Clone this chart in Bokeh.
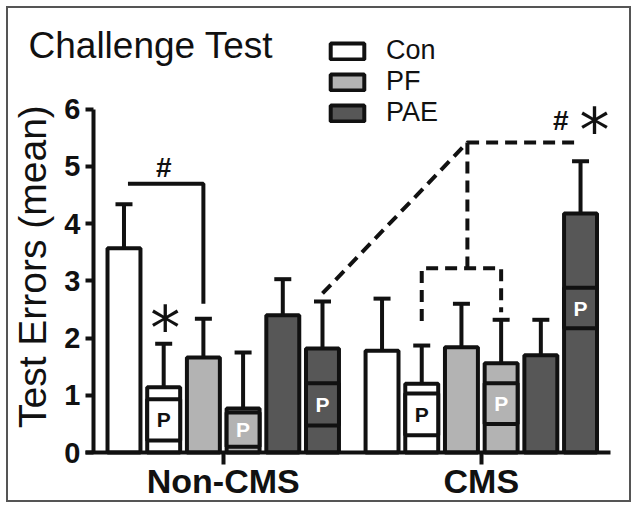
import math
from bokeh.plotting import figure
from bokeh.models import (ColumnDataSource, Whisker, TeeHead, Legend, LegendItem,
                          FixedTicker, Range1d, Label)
from bokeh.core.properties import value
from bokeh.embed import file_html
from bokeh.resources import INLINE

# ---------------- data ----------------
groups = ["Non-CMS", "CMS"]
conditions = ["Con", "PF", "PAE"]
treatments = ["", "P"]          # second bar of each pair is labelled "P"

means_noncms = [3.57, 1.14, 1.66, 0.77, 2.40, 1.82]
means_cms    = [1.78, 1.20, 1.84, 1.56, 1.70, 4.18]
sem_noncms   = [0.77, 0.76, 0.68, 0.98, 0.63, 0.82]
sem_cms      = [0.91, 0.67, 0.76, 0.76, 0.62, 0.91]

# "P" inset boxes (low, high) for the P bars, per condition
p_low_noncms  = [0.21, 0.10, 0.47]
p_high_noncms = [0.93, 0.70, 1.21]
p_low_cms     = [0.30, 0.50, 2.17]
p_high_cms    = [1.03, 1.21, 2.88]

y_ticks = [0, 1, 2, 3, 4, 5, 6]

colors = {"Con": "#ffffff", "PF": "#b3b3b3", "PAE": "#575757"}
p_text_colors = {"Con": "#111111", "PF": "#ffffff", "PAE": "#ffffff"}

# ---------------- layout helpers ----------------
GROUP_STEP = 6.5
BAR_W = 0.83
all_means = [means_noncms, means_cms]
all_sems = [sem_noncms, sem_cms]
all_plow = [p_low_noncms, p_low_cms]
all_phigh = [p_high_noncms, p_high_cms]

def xpos(g, c, t):
    return g * GROUP_STEP + c * 2 + t

bars = {c: dict(x=[], top=[]) for c in conditions}
err = dict(x=[], lower=[], upper=[])
pbox = dict(x=[], bottom=[], top=[], fill=[], tc=[], mid=[])
for g in range(len(groups)):
    for ci, c in enumerate(conditions):
        for t in range(len(treatments)):
            k = ci * 2 + t
            x = xpos(g, ci, t)
            m = all_means[g][k]
            bars[c]["x"].append(x)
            bars[c]["top"].append(m)
            err["x"].append(x)
            err["lower"].append(m)
            err["upper"].append(m + all_sems[g][k])
            if treatments[t] == "P":
                lo, hi = all_plow[g][ci], all_phigh[g][ci]
                pbox["x"].append(x)
                pbox["bottom"].append(lo)
                pbox["top"].append(hi)
                pbox["fill"].append(colors[c])
                pbox["tc"].append(p_text_colors[c])
                pbox["mid"].append((lo + hi) / 2)

group_centers = [xpos(g, 0, 0) + 2.5 for g in range(len(groups))]

# ---------------- figure ----------------
FONT = "Liberation Sans"
W, H = 625, 496
YAXIS_AT = -0.768
p = figure(width=W, height=H, output_backend="svg", toolbar_location=None,
           x_range=Range1d(-2.909, 12.834), y_range=Range1d(-0.909, 7.762),
           min_border=0, min_border_left=0, min_border_right=0,
           min_border_top=0, min_border_bottom=0, title=None)
p.styles = {"border": "2px solid #555555", "margin": "6px"}
p.outline_line_color = None
p.grid.visible = False
p.background_fill_color = "white"
p.border_fill_color = "white"

# y axis
ya = p.yaxis[0]
ya.fixed_location = YAXIS_AT
ya.bounds = (0, 6)
ya.ticker = FixedTicker(ticks=y_ticks)
ya.minor_tick_line_color = None
ya.axis_line_width = 4
ya.major_tick_line_width = 4
ya.major_tick_out = 8
ya.major_tick_in = 0
ya.axis_line_color = "#111111"
ya.major_tick_line_color = "#111111"
ya.major_label_text_font = FONT
ya.major_label_text_font_style = "bold"
ya.major_label_text_font_size = "29px"
ya.major_label_text_color = "#111111"
ya.major_label_standoff = 5

# y axis title, placed beside the axis
p.add_layout(Label(x=-2.305, y=3.25, text="Test Errors (mean)", angle=math.pi / 2,
                   text_font=FONT, text_font_size="39px", text_color="#111111",
                   text_align="center", text_baseline="middle"))

# x axis
xa = p.xaxis[0]
xa.fixed_location = 0
xa.bounds = (-0.97, 12.25)
xa.ticker = FixedTicker(ticks=group_centers)
xa.major_label_overrides = {gc: g for gc, g in zip(group_centers, groups)}
xa.minor_tick_line_color = None
xa.axis_line_width = 4
xa.major_tick_line_width = 4
xa.major_tick_out = 12
xa.major_tick_in = 0
xa.axis_line_color = "#111111"
xa.major_tick_line_color = "#111111"
xa.major_label_text_font = FONT
xa.major_label_text_font_style = "bold"
xa.major_label_text_font_size = "34px"
xa.major_label_text_color = "#111111"
xa.major_label_standoff = -3

# bars
renderers = {}
for c in conditions:
    src = ColumnDataSource(bars[c])
    renderers[c] = p.vbar(x="x", top="top", bottom=0, width=BAR_W, source=src,
                          fill_color=colors[c], line_color="#111111", line_width=4)

# error bars (upper only)
esrc = ColumnDataSource(err)
wh = Whisker(base="x", lower="lower", upper="upper", source=esrc,
             line_color="#111111", line_width=4,
             upper_head=TeeHead(size=17, line_width=4, line_color="#111111"),
             lower_head=None, level="glyph")
p.add_layout(wh)

# P boxes
psrc = ColumnDataSource(pbox)
p.vbar(x="x", top="top", bottom="bottom", width=BAR_W, source=psrc,
       fill_color="fill", line_color="#111111", line_width=4)
p.text(x="x", y="mid", text=value("P"), source=psrc, text_color="tc",
       text_font=value(FONT), text_font_style="bold", text_font_size="21px",
       text_align="center", text_baseline="middle")

# significance brackets
p.line(x=[0.1, 2.0, 2.0], y=[4.7, 4.7, 2.6], line_color="#111111", line_width=4)
p.multi_line(xs=[[5.0, 8.65, 11.5], [8.65, 8.65], [7.5, 7.5, 9.5, 9.5]],
             ys=[[2.78, 5.42, 5.42], [5.42, 3.22], [2.3, 3.22, 3.22, 2.45]],
             line_color="#111111", line_width=4, line_dash="12 7")

# symbols
p.text(x=[1.0, 11.0], y=[4.98, 5.8], text=["#", "#"], text_font=value(FONT),
       text_font_style="bold", text_font_size="28px", text_color="#111111",
       text_align="center", text_baseline="middle")
p.text(x=[1.04, 11.85], y=[2.17, 5.64], text=["*", "*"], text_font=value("DejaVu Sans"),
       text_font_size="60px", text_color="#111111",
       text_align="center", text_baseline="middle")

# title
p.add_layout(Label(x=-2.405, y=7.116, text="Challenge Test", text_font=FONT,
                   text_font_size="37px", text_color="#111111",
                   text_baseline="alphabetic"))

# legend
legend = Legend(items=[LegendItem(label=c, renderers=[renderers[c]]) for c in conditions],
                location=(318, 376), orientation="vertical",
                glyph_width=42, glyph_height=20, spacing=-3, padding=0,
                label_standoff=18, border_line_color=None, background_fill_alpha=0,
                label_text_font=FONT, label_text_font_size="27px",
                label_text_color="#111111", label_height=20, margin=0)
p.add_layout(legend)

open("out.html", "w").write(file_html(p, INLINE))
